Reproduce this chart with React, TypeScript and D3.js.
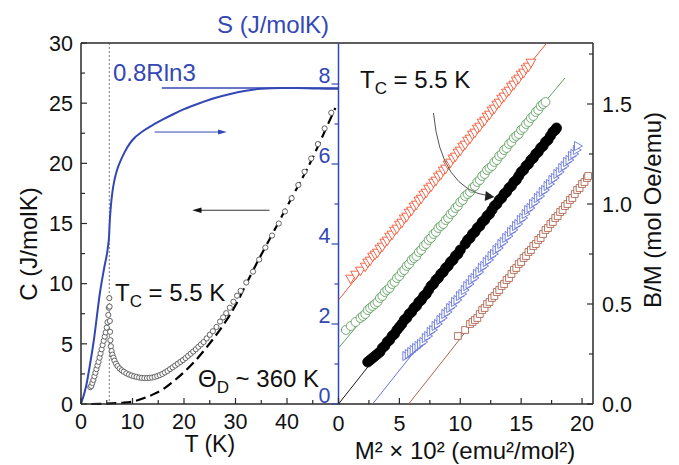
import React from "react";
import * as d3 from "d3";

const W = 679;
const H = 465;
const FONT = "'Liberation Sans', Arial, Helvetica, sans-serif";

// ---------- Left panel: specific heat C(T) ----------
const cT = [1.8, 2.0, 2.2, 2.4, 2.6, 2.8, 3.0, 3.2, 3.4, 3.6, 3.8, 4.0, 4.2, 4.4, 4.6, 4.8, 5.0, 5.15, 5.3, 5.4, 5.5, 5.55, 5.6, 5.65, 5.7, 5.8, 5.95, 6.1, 6.3, 6.5, 6.8, 7.1, 7.5, 7.9, 8.3, 8.8, 9.3, 9.8, 10.3, 10.8, 11.3, 11.8, 12.3, 12.8, 13.3, 13.8, 14.3, 14.8, 15.3, 15.8, 16.3, 16.8, 17.3, 17.8, 18.3, 18.8, 19.3, 19.8, 20.3, 20.8, 21.3, 21.8, 22.3, 22.8, 23.3, 23.8, 24.4, 25.0, 25.6, 26.3, 27.0, 27.6, 28.2, 28.9, 29.6, 30.3, 31.0, 32.1, 33.4, 34.6, 35.8, 37.1, 38.4, 39.6, 40.9, 42.2, 43.4, 44.7, 46.0, 47.3, 48.6];
const cVal = [1.4, 1.5, 1.75, 2.0, 2.3, 2.6, 2.9, 3.2, 3.5, 3.85, 4.2, 4.55, 4.9, 5.25, 5.6, 5.95, 6.35, 6.8, 7.4, 8.0, 8.8, 8.1, 6.9, 6.0, 5.3, 4.8, 4.4, 4.1, 3.85, 3.6, 3.35, 3.15, 2.95, 2.8, 2.68, 2.55, 2.45, 2.37, 2.3, 2.25, 2.2, 2.17, 2.15, 2.15, 2.17, 2.2, 2.25, 2.32, 2.4, 2.5, 2.62, 2.75, 2.9, 3.05, 3.2, 3.35, 3.5, 3.65, 3.82, 4.0, 4.18, 4.36, 4.55, 4.75, 4.95, 5.15, 5.45, 5.75, 6.05, 6.4, 6.85, 7.2, 7.55, 8.0, 8.5, 9.0, 9.4, 10.1, 11.0, 12.0, 13.0, 14.0, 15.0, 16.0, 17.1, 18.2, 19.3, 20.4, 21.6, 22.9, 24.2];

// Debye fit (dashed)
const debyeT = [2, 4, 6, 8, 10, 12, 14, 16, 18, 20, 22, 24, 26, 28, 30, 32, 34, 36, 38, 40, 42, 44, 46, 48, 49.4];
const debyeC = [0.0, 0.02, 0.05, 0.1, 0.2, 0.45, 0.8, 1.25, 1.9, 2.65, 3.5, 4.5, 5.6, 6.8, 8.2, 9.9, 11.6, 13.2, 14.8, 16.4, 18.0, 19.6, 21.4, 23.3, 24.6];

// Entropy S(T) (blue, right axis)
const entT = [0, 1.0, 1.7, 2.5, 3.7, 4.5, 5.2, 5.45, 5.6, 5.8, 6.1, 6.5, 7.0, 8.0, 9.0, 10, 12, 14, 16, 18, 20, 23, 26, 29, 32, 35, 39, 42, 45, 48.8, 50];
const entS = [0, 0.45, 0.95, 1.6, 2.8, 3.4, 3.9, 4.2, 4.6, 4.95, 5.3, 5.6, 5.85, 6.17, 6.42, 6.6, 6.82, 6.98, 7.12, 7.25, 7.37, 7.52, 7.65, 7.75, 7.83, 7.88, 7.9, 7.9, 7.89, 7.88, 7.88];

const plateauS = 7.9; // 0.8Rln3 level
const plateauT = [15.7, 50];
const tcT = 5.5;

const tTicks = [0, 10, 20, 30, 40];
const tMinor = [5, 15, 25, 35, 45];
const cTicks = [0, 5, 10, 15, 20, 25, 30];
const cMinor = [2.5, 7.5, 12.5, 17.5, 22.5, 27.5];
const sTicks = [0, 2, 4, 6, 8];
const sMinor = [1, 3, 5, 7];

// ---------- Right panel: Arrott plot B/M vs M^2 ----------
const m2Ticks = [0, 5, 10, 15, 20];
const m2Minor = [2.5, 7.5, 12.5, 17.5];
const bmTicks = [0, 0.5, 1.0, 1.5];
const bmLabels = ["0.0", "0.5", "1.0", "1.5"];
const bmMinor = [0.25, 0.75, 1.25, 1.75];

const redX = [1.0, 1.4, 1.8, 2.2, 2.4, 2.6, 2.8, 3.0, 3.2, 3.4, 3.6, 3.8, 4.0, 4.2, 4.4, 4.6, 4.8, 5.0, 5.2, 5.4, 5.6, 5.8, 6.0, 6.2, 6.4, 6.6, 6.8, 7.0, 7.2, 7.4, 7.6, 7.8, 8.0, 8.2, 8.4, 8.6, 8.8, 9.0, 9.2, 9.4, 9.6, 9.8, 10.0, 10.2, 10.4, 10.6, 10.8, 11.0, 11.2, 11.4, 11.6, 11.8, 12.0, 12.2, 12.4, 12.6, 12.8, 13.0, 13.2, 13.4, 13.6, 13.8, 14.0, 14.2, 14.4, 14.6, 14.8, 15.0, 15.2, 15.4, 15.6, 15.8];
const redY = [0.63, 0.65, 0.67, 0.69, 0.71, 0.72, 0.74, 0.75, 0.76, 0.78, 0.79, 0.81, 0.82, 0.84, 0.85, 0.87, 0.88, 0.9, 0.91, 0.93, 0.94, 0.96, 0.97, 0.99, 1.0, 1.02, 1.03, 1.05, 1.06, 1.08, 1.09, 1.11, 1.12, 1.14, 1.15, 1.17, 1.18, 1.2, 1.21, 1.23, 1.24, 1.26, 1.27, 1.29, 1.3, 1.32, 1.33, 1.35, 1.36, 1.38, 1.39, 1.41, 1.42, 1.44, 1.45, 1.47, 1.48, 1.5, 1.51, 1.53, 1.54, 1.56, 1.57, 1.59, 1.6, 1.62, 1.63, 1.65, 1.66, 1.68, 1.69, 1.71];
const greenX = [0.6, 1.0, 1.4, 1.8, 2.0, 2.2, 2.4, 2.6, 2.8, 3.0, 3.2, 3.4, 3.6, 3.8, 4.0, 4.2, 4.4, 4.6, 4.8, 5.0, 5.2, 5.4, 5.6, 5.8, 6.0, 6.2, 6.4, 6.6, 6.8, 7.0, 7.2, 7.4, 7.6, 7.8, 8.0, 8.2, 8.4, 8.6, 8.8, 9.0, 9.2, 9.4, 9.6, 9.8, 10.0, 10.2, 10.4, 10.6, 10.8, 11.0, 11.2, 11.4, 11.6, 11.8, 12.0, 12.2, 12.4, 12.6, 12.8, 13.0, 13.2, 13.4, 13.6, 13.8, 14.0, 14.2, 14.4, 14.6, 14.8, 15.0, 15.2, 15.4, 15.6, 15.8, 16.0, 16.2, 16.4, 16.6, 16.8, 17.0];
const greenY = [0.37, 0.39, 0.41, 0.43, 0.44, 0.45, 0.47, 0.48, 0.49, 0.5, 0.51, 0.53, 0.54, 0.56, 0.57, 0.58, 0.6, 0.61, 0.63, 0.64, 0.66, 0.67, 0.69, 0.7, 0.72, 0.73, 0.74, 0.76, 0.77, 0.79, 0.8, 0.82, 0.83, 0.85, 0.86, 0.88, 0.89, 0.9, 0.92, 0.93, 0.95, 0.96, 0.98, 0.99, 1.01, 1.02, 1.04, 1.05, 1.06, 1.08, 1.09, 1.11, 1.12, 1.14, 1.15, 1.17, 1.18, 1.19, 1.21, 1.22, 1.24, 1.25, 1.27, 1.28, 1.3, 1.31, 1.33, 1.34, 1.35, 1.37, 1.38, 1.4, 1.41, 1.43, 1.44, 1.46, 1.47, 1.49, 1.5, 1.51];
const blackX = [2.4, 2.6, 2.8, 3.0, 3.2, 3.4, 3.6, 3.8, 4.0, 4.2, 4.4, 4.6, 4.8, 5.0, 5.2, 5.4, 5.6, 5.8, 6.0, 6.2, 6.4, 6.6, 6.8, 7.0, 7.2, 7.4, 7.6, 7.8, 8.0, 8.2, 8.4, 8.6, 8.8, 9.0, 9.2, 9.4, 9.6, 9.8, 10.0, 10.4, 10.6, 10.8, 11.0, 11.2, 11.4, 11.6, 11.8, 12.0, 12.2, 12.4, 12.6, 12.8, 13.0, 13.2, 13.4, 13.6, 13.8, 14.0, 14.2, 14.4, 14.6, 14.8, 15.0, 15.2, 15.4, 15.6, 15.8, 16.0, 16.2, 16.4, 16.6, 16.8, 17.0, 17.2, 17.4, 17.6, 17.8, 17.9];
const blackY = [0.21, 0.22, 0.23, 0.24, 0.25, 0.26, 0.28, 0.29, 0.31, 0.32, 0.34, 0.35, 0.37, 0.385, 0.4, 0.42, 0.43, 0.45, 0.46, 0.48, 0.49, 0.51, 0.52, 0.54, 0.55, 0.57, 0.59, 0.6, 0.62, 0.63, 0.65, 0.66, 0.68, 0.69, 0.71, 0.72, 0.74, 0.75, 0.77, 0.8, 0.82, 0.83, 0.85, 0.86, 0.88, 0.89, 0.91, 0.92, 0.94, 0.95, 0.97, 0.99, 1.0, 1.02, 1.03, 1.05, 1.06, 1.08, 1.09, 1.11, 1.12, 1.14, 1.16, 1.17, 1.19, 1.2, 1.22, 1.23, 1.25, 1.26, 1.28, 1.29, 1.31, 1.32, 1.34, 1.36, 1.37, 1.38];
const blueX = [5.5, 5.7, 5.9, 6.1, 6.3, 6.5, 6.7, 6.9, 7.1, 7.3, 7.5, 7.7, 7.9, 8.1, 8.3, 8.5, 8.7, 8.9, 9.1, 9.3, 9.5, 9.7, 9.9, 10.1, 10.3, 10.5, 10.7, 10.9, 11.1, 11.3, 11.5, 11.7, 11.9, 12.1, 12.3, 12.5, 12.7, 12.9, 13.1, 13.3, 13.5, 13.7, 13.9, 14.1, 14.3, 14.5, 14.7, 14.9, 15.1, 15.3, 15.5, 15.7, 15.9, 16.1, 16.3, 16.5, 16.7, 16.9, 17.1, 17.3, 17.5, 17.7, 17.9, 18.1, 18.3, 18.5, 18.7, 18.9, 19.1, 19.3, 19.5, 19.6];
const blueY = [0.24, 0.25, 0.26, 0.27, 0.28, 0.29, 0.3, 0.31, 0.33, 0.34, 0.36, 0.37, 0.39, 0.4, 0.42, 0.43, 0.45, 0.46, 0.48, 0.49, 0.51, 0.52, 0.54, 0.55, 0.57, 0.59, 0.6, 0.62, 0.63, 0.65, 0.66, 0.68, 0.69, 0.71, 0.72, 0.74, 0.75, 0.77, 0.78, 0.8, 0.81, 0.83, 0.84, 0.86, 0.87, 0.89, 0.9, 0.92, 0.93, 0.95, 0.97, 0.98, 1.0, 1.01, 1.03, 1.04, 1.06, 1.07, 1.09, 1.1, 1.12, 1.13, 1.15, 1.16, 1.18, 1.19, 1.21, 1.22, 1.24, 1.25, 1.27, 1.29];
const brownX = [9.8, 10.4, 10.8, 11.0, 11.2, 11.4, 11.6, 11.8, 12.0, 12.2, 12.4, 12.6, 12.8, 13.0, 13.2, 13.4, 13.6, 13.8, 14.0, 14.2, 14.4, 14.6, 14.8, 15.0, 15.2, 15.4, 15.6, 15.8, 16.0, 16.2, 16.4, 16.6, 16.8, 17.0, 17.2, 17.4, 17.6, 17.8, 18.0, 18.2, 18.4, 18.6, 18.8, 19.0, 19.2, 19.4, 19.6, 19.8, 20.0, 20.2, 20.4, 20.5];
const brownY = [0.34, 0.37, 0.4, 0.41, 0.42, 0.43, 0.45, 0.47, 0.48, 0.5, 0.51, 0.53, 0.54, 0.56, 0.57, 0.59, 0.6, 0.62, 0.63, 0.65, 0.67, 0.68, 0.7, 0.71, 0.73, 0.74, 0.76, 0.77, 0.79, 0.8, 0.82, 0.83, 0.85, 0.87, 0.88, 0.9, 0.91, 0.93, 0.94, 0.96, 0.97, 0.99, 1.0, 1.02, 1.03, 1.05, 1.07, 1.08, 1.1, 1.11, 1.13, 1.14];

// linear Arrott fits (start / end points)
const fitRed = [[0, 0.52], [17.1, 1.805]];
const fitGreen = [[0, 0.28], [18.6, 1.63]];
const fitBlack = [[0, 0], [17.9, 1.38]];
const fitBlue = [[2.8, 0], [19.8, 1.3]];
const fitBrown = [[5.76, 0], [20.6, 1.145]];

const series = [
  { name: "red", xs: redX, ys: redY, fit: fitRed, color: "#f2401c", shape: "down", fill: "white" },
  { name: "green", xs: greenX, ys: greenY, fit: fitGreen, color: "#4f9550", shape: "circle", fill: "white" },
  { name: "black", xs: blackX, ys: blackY, fit: fitBlack, color: "#000000", shape: "dot", fill: "#000" },
  { name: "blue", xs: blueX, ys: blueY, fit: fitBlue, color: "#5566d4", shape: "right", fill: "white" },
  { name: "brown", xs: brownX, ys: brownY, fit: fitBrown, color: "#a4533b", shape: "square", fill: "white" },
];

// ---------- layout ----------
const L = 81, MID = 338.5, R = 593, TOP = 43, BOT = 404;

const xT = d3.scaleLinear().domain([0, 50]).range([L, MID]);
const yC = d3.scaleLinear().domain([0, 30]).range([BOT, TOP]);
const yS = d3.scaleLinear().domain([0, 9]).range([BOT, 44]);
const xM = d3.scaleLinear().domain([0, 20.9]).range([MID, R]);
const yB = d3.scaleLinear().domain([0, 1.805]).range([BOT, TOP]);

const BLUE = "#3347b5";
const AX = "#2a2a2a";

function symbolPath(shape: string) {
  if (shape === "circle") return d3.symbol(d3.symbolCircle, 62)();
  if (shape === "dot") return d3.symbol(d3.symbolCircle, 80)();
  if (shape === "square") return d3.symbol(d3.symbolSquare, 46)();
  if (shape === "right") return d3.symbol(d3.symbolTriangle, 36)();
  return d3.symbol(d3.symbolTriangle, 42)();
}
function symbolRot(shape: string) {
  if (shape === "down") return 180;
  if (shape === "right") return 90;
  return 0;
}

export default function App() {
  const cPts = cT.map((t, i) => [t, cVal[i]] as [number, number]);
  const debyeLine = d3.line<number>().x((_, i) => xT(debyeT[i])).y((d) => yC(d)).curve(d3.curveMonotoneX)(debyeC) || "";
  const entLine = d3.line<number>().x((_, i) => xT(entT[i])).y((d) => yS(d)).curve(d3.curveMonotoneX)(entS) || "";

  const fs = 21.5;
  const big = 24;

  return (
    <svg width={W} height={H} style={{ position: "absolute", left: 0, top: 0, background: "white" }} fontFamily={FONT}>
      <rect x={0} y={0} width={W} height={H} fill="white" />

      {/* ---------- left panel ---------- */}
      <line x1={xT(tcT)} x2={xT(tcT)} y1={TOP} y2={BOT} stroke="#777" strokeWidth={1} strokeDasharray="2,2" />

      <path d={debyeLine} fill="none" stroke="#000" strokeWidth={2.2} strokeDasharray="10,5" />

      {cPts.map((p, i) => (
        <circle key={"c" + i} cx={xT(p[0])} cy={yC(p[1])} r={2.6} fill="white" stroke="#555" strokeWidth={0.9} />
      ))}

      <path d={entLine} fill="none" stroke={BLUE} strokeWidth={2} />
      <line x1={xT(plateauT[0])} x2={xT(plateauT[1])} y1={yS(plateauS)} y2={yS(plateauS)} stroke={BLUE} strokeWidth={1.5} />

      {/* arrows */}
      <line x1={xT(14.3)} x2={xT(27.0)} y1={yC(22.6)} y2={yC(22.6)} stroke={BLUE} strokeWidth={1} />
      <path d={`M${xT(28.3)},${yC(22.6)} L${xT(26.6)},${yC(22.6) - 2.5} L${xT(26.6)},${yC(22.6) + 2.5} Z`} fill={BLUE} />
      <line x1={xT(36.6)} x2={xT(23.0)} y1={yC(16.1)} y2={yC(16.1)} stroke="#333" strokeWidth={1} />
      <path d={`M${xT(21.6)},${yC(16.1)} L${xT(23.4)},${yC(16.1) - 2.8} L${xT(23.4)},${yC(16.1) + 2.8} Z`} fill="#111" />

      {/* frame + left axes */}
      <line x1={L} x2={L} y1={TOP} y2={BOT} stroke={AX} strokeWidth={1.5} />
      <line x1={L} x2={R} y1={BOT} y2={BOT} stroke={AX} strokeWidth={1.5} />
      <line x1={L} x2={R} y1={TOP} y2={TOP} stroke={AX} strokeWidth={1.5} />
      <line x1={R} x2={R} y1={TOP} y2={BOT} stroke={AX} strokeWidth={1.5} />
      {cTicks.map((v) => (
        <g key={"ct" + v}>
          <line x1={L} x2={L + 6} y1={yC(v)} y2={yC(v)} stroke={AX} strokeWidth={1.2} />
          <text x={L - 8} y={yC(v)} dy="0.36em" textAnchor="end" fontSize={fs} fill="#111">{v}</text>
        </g>
      ))}
      {cMinor.map((v) => (
        <line key={"cm" + v} x1={L} x2={L + 4} y1={yC(v)} y2={yC(v)} stroke={AX} strokeWidth={1.2} />
      ))}
      {tTicks.map((v) => (
        <g key={"tt" + v}>
          <line x1={xT(v)} x2={xT(v)} y1={BOT} y2={BOT - 6} stroke={AX} strokeWidth={1.2} />
          <text x={xT(v)} y={429} textAnchor="middle" fontSize={fs} fill="#111">{v}</text>
        </g>
      ))}
      {tMinor.map((v) => (
        <line key={"tm" + v} x1={xT(v)} x2={xT(v)} y1={BOT} y2={BOT - 4} stroke={AX} strokeWidth={1.2} />
      ))}

      {/* S axis (blue) */}
      <line x1={MID} x2={MID} y1={TOP} y2={BOT} stroke={BLUE} strokeWidth={1.5} />
      {sTicks.map((v) => (
        <g key={"st" + v}>
          <line x1={MID} x2={MID - 7} y1={yS(v)} y2={yS(v)} stroke={BLUE} strokeWidth={1.2} />
          <text x={MID - 8} y={yS(v) - 1} textAnchor="end" fontSize={fs} fill={BLUE}>{v}</text>
        </g>
      ))}
      {sMinor.map((v) => (
        <line key={"sm" + v} x1={MID} x2={MID - 4} y1={yS(v)} y2={yS(v)} stroke={BLUE} strokeWidth={1.2} />
      ))}

      {/* left texts */}
      <text x={217} y={33} fontSize={big} fill={BLUE}>S (J/molK)</text>
      <text x={113} y={81} fontSize={big} fill={BLUE}>0.8Rln3</text>
      <text transform="translate(37,244) rotate(-90)" textAnchor="middle" fontSize={big} fill="#111">C (J/molK)</text>
      <text x={xT(25)} y={452} textAnchor="middle" fontSize={23} fill="#111">T (K)</text>
      <text x={115} y={301} fontSize={big} fill="#111">
        T<tspan fontSize={17} dy={6}>C</tspan><tspan dy={-6}> = 5.5 K</tspan>
      </text>
      <text x={198} y={387} fontSize={big} fill="#111">
        Θ<tspan fontSize={17} dy={6}>D</tspan><tspan dy={-6}> ~ 360 K</tspan>
      </text>

      {/* ---------- right panel ---------- */}
      <g>
        {series.map((s) => (
          <line key={"fit" + s.name} x1={xM(s.fit[0][0])} y1={yB(s.fit[0][1])} x2={xM(s.fit[1][0])} y2={yB(s.fit[1][1])} stroke={s.color} strokeWidth={0.9} />
        ))}
        {series.map((s) => {
          const path = symbolPath(s.shape) || "";
          const rot = symbolRot(s.shape);
          return (
            <g key={"pts" + s.name}>
              {s.xs.map((x, i) => (
                <path
                  key={i}
                  d={path}
                  transform={`translate(${xM(x)},${yB(s.ys[i])}) rotate(${rot})`}
                  fill={s.fill}
                  stroke={s.color}
                  strokeWidth={0.8}
                />
              ))}
            </g>
          );
        })}
      </g>

      {/* curved arrow */}
      <path d={`M${xM(7.8)},${yB(1.455)} Q${xM(8.4)},${yB(1.07)} ${xM(12.4)},${yB(1.04)}`} fill="none" stroke="#555" strokeWidth={1} />
      <path d={`M${xM(12.8)},${yB(1.035)} L${xM(12.0)},${yB(1.015)} L${xM(12.1)},${yB(1.065)} Z`} fill="#222" />

      {m2Ticks.map((v) => (
        <g key={"mt" + v}>
          <line x1={xM(v)} x2={xM(v)} y1={BOT} y2={BOT - 6} stroke={AX} strokeWidth={1.2} />
          <text x={xM(v)} y={431} textAnchor="middle" fontSize={fs} fill="#111">{v}</text>
        </g>
      ))}
      {m2Minor.map((v) => (
        <line key={"mm" + v} x1={xM(v)} x2={xM(v)} y1={BOT} y2={BOT - 4} stroke={AX} strokeWidth={1.2} />
      ))}
      {bmTicks.map((v, i) => (
        <g key={"bt" + v}>
          <line x1={R} x2={R - 6} y1={yB(v)} y2={yB(v)} stroke={AX} strokeWidth={1.2} />
          <text x={602} y={yB(v)} dy="0.36em" fontSize={fs} fill="#111">{bmLabels[i]}</text>
        </g>
      ))}
      {bmMinor.map((v) => (
        <line key={"bm" + v} x1={R} x2={R - 4} y1={yB(v)} y2={yB(v)} stroke={AX} strokeWidth={1.2} />
      ))}

      <text x={360} y={88} fontSize={big} fill="#111">
        T<tspan fontSize={17} dy={6}>C</tspan><tspan dy={-6}> = 5.5 K</tspan>
      </text>
      <text x={465} y={459} textAnchor="middle" fontSize={big} fill="#111">M² × 10² (emu²/mol²)</text>
      <text transform="translate(661,210) rotate(-90)" textAnchor="middle" fontSize={big} fill="#111">B/M (mol Oe/emu)</text>
    </svg>
  );
}
